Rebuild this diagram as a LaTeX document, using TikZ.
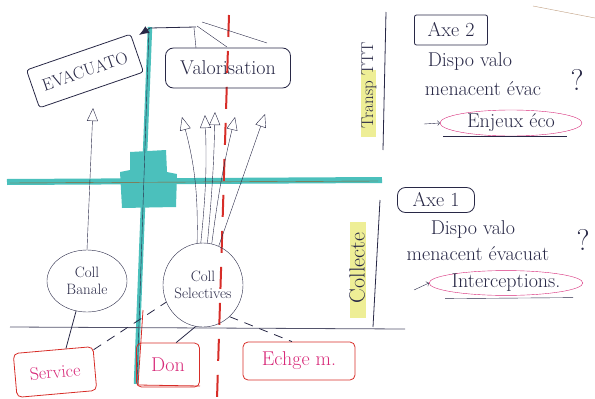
\documentclass[tikz,border=0pt]{standalone}
\usepackage{fontspec}
\usepackage{tikz}
\usetikzlibrary{arrows.meta,shapes.geometric,positioning}
\definecolor{sktteal}{RGB}{75,192,188}
\definecolor{sktred}{RGB}{215,45,40}
\definecolor{sktpink}{RGB}{215,40,120}
\definecolor{sktink}{RGB}{40,40,70}
\definecolor{sktyellow}{RGB}{238,238,150}
\definecolor{sktbrown}{RGB}{150,95,45}

\begin{document}
\begin{tikzpicture}[x=1pt, y=-1pt,
  every node/.style={font=\fontsize{20}{22}\selectfont, text=sktink},
  inkbox/.style={draw=sktink, thick, rounded corners=3pt, inner sep=0pt},
  redbox/.style={draw=sktred, thick, rounded corners=5pt, text=sktpink, inner sep=0pt},
  blob/.style={draw=sktink, ellipse, inner sep=-3pt, align=center,
               font=\fontsize{15}{17}\selectfont},
  up/.style={draw=sktink, -{Triangle[open, length=13pt, width=11pt]}},
  link/.style={draw=sktink, thick},
  dlink/.style={draw=sktink, thick, dash pattern=on 9pt off 7pt},
  oval/.style={draw=sktpink, ellipse, inner sep=0pt}
]
\useasboundingbox (0,0) rectangle (595,399);

% marker strokes
\fill[sktyellow] (361,70) rectangle (376,137);
\fill[sktyellow] (350,222) rectangle (366,318);
\draw[line width=4.5pt, sktteal] (150,27) -- (136,384);
\draw[line width=6pt, sktteal] (7,182) -- (382,180);
\fill[sktteal] (130,152) -- (166,150) -- (167,172) -- (177,174) -- (176,207)
  -- (122,208) -- (120,172) -- (130,170) -- cycle;
\draw[sktbrown] (10,183) -- (378,181);
\draw[sktink] (137,383) -- (149,29);
\draw[sktred, line width=2pt, dash pattern=on 22pt off 14pt] (229,15) -- (217,399);
\draw[sktred, thick] (143,310) -- (138,385) -- (200,386);
\draw[sktink!80, thick] (10,327) -- (405,329);
\draw[sktbrown!60] (533,6) -- (595,18);

% top arrow and strokes
\draw[sktink, thick, -{Latex[length=10pt, width=8pt]}] (196,27) -- (150,28) -- (139,35);
\draw[sktink] (194,28) -- (196,48);
\draw[sktink] (197,26) -- (227,47);
\draw[sktink] (202,22) -- (267,43);

% boxes
\node[inkbox, rotate=19, minimum width=110pt, minimum height=40pt,
      font=\fontsize{17}{19}\selectfont] (evac) at (85,71) {EVACUATO};
\node[inkbox, rounded corners=8pt, minimum width=125pt, minimum height=40pt]
      (valo) at (228,68) {Valorisation};
\node[blob, minimum width=80pt, minimum height=62pt] (banale) at (87,281) {Coll\\Banale};
\node[blob, minimum width=80pt, minimum height=84pt] (select) at (203,285) {Coll\\Selectives};
\node[redbox, rotate=5, minimum width=80pt, minimum height=44pt,
      font=\fontsize{18}{20}\selectfont] (service) at (55,372) {Service};
\node[redbox, minimum width=63pt, minimum height=44pt] (don) at (168,365) {Don};
\node[redbox, minimum width=112pt, minimum height=38pt] (echge) at (299,361) {Echge m.};

% arrows up
\coordinate (tipE) at (93,108);
\draw[up] (banale.north) -- (tipE);
\coordinate (tv1) at (182,117);
\coordinate (tv2) at (205,115);
\coordinate (tv3) at (215,112);
\coordinate (tv4) at (235,117);
\coordinate (tv5) at (265,114);
\foreach \a/\t/\b in {98/tv1/8, 93/tv2/4, 84/tv3/2, 78/tv4/-3, 68/tv5/0}
  \draw[up] (select.\a) to[bend right=\b] (\t);

% links down
\draw[link] (banale.250) -- (service.60);
\draw[dlink] (service.25) -- (select.205);
\draw[link] (select.260) -- (don.70);
\draw[dlink] (select.310) -- (echge.110);

% right side
\draw[sktink, thick] (386,12) -- (383,150);
\draw[sktink, thick] (380,200) -- (373,327);
\node[rotate=90, font=\fontsize{17}{19}\selectfont] (transp) at (369,85) {Transp TTT};
\node[rotate=90, font=\fontsize{22}{24}\selectfont] (collecte) at (357,268) {Collecte};

\node[inkbox, rounded corners=2pt, minimum width=73pt, minimum height=30pt] (axe2) at (451,30) {Axe 2};
\node (dispo2) at (470,62) {Dispo valo};
\node (menac2) at (483,89) {menacent évac};
\node[font=\fontsize{30}{32}\selectfont] (q2) at (577,80) {?};
\node[oval, minimum width=142pt, minimum height=26pt] (enjeux) at (511,123) {Enjeux éco};
\coordinate (enjeuxfrom) at (424,124);
\draw[sktink, ->] (enjeuxfrom) -- (enjeux.west);
\draw[sktink] ([xshift=-68pt]enjeux.south) -- ([xshift=56pt]enjeux.south);

\node[inkbox, rounded corners=8pt, minimum width=77pt, minimum height=25pt] (axe1) at (436,200) {Axe 1};
\node (dispo1) at (473,230) {Dispo valo};
\node (menac1) at (478,254) {menacent évacuat};
\node[font=\fontsize{30}{32}\selectfont] (q1) at (583,240) {?};
\node[oval, minimum width=148pt, minimum height=24pt] (inter) at (506,283) {Interceptions.};
\coordinate (interfrom) at (414,290);
\draw[sktink, ->] (interfrom) -- (inter.west);
\draw[sktink] ([xshift=-61pt, yshift=-3pt]inter.south) -- ([xshift=67pt, yshift=-2pt]inter.south);
\end{tikzpicture}
\end{document}
